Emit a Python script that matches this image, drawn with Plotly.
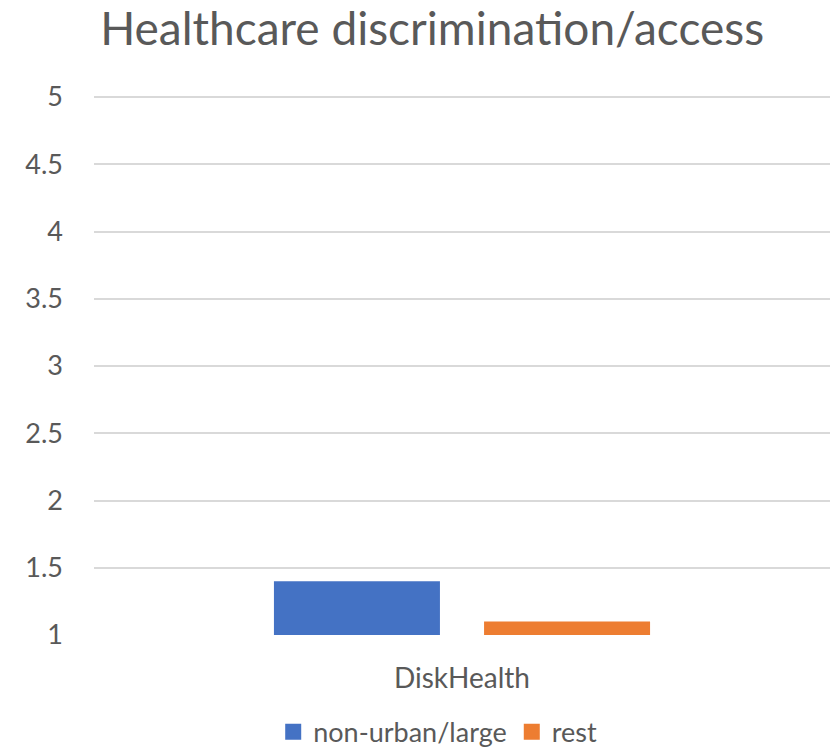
import plotly.graph_objects as go

categories = ["DiskHealth"]
series_names = ["non-urban/large", "rest"]
values_nonurban = [1.40]
values_rest = [1.10]
colors = ["#4472C4", "#ED7D31"]
y_ticks = [1, 1.5, 2, 2.5, 3, 3.5, 4, 4.5, 5]
y_tick_labels = ["1", "1.5", "2", "2.5", "3", "3.5", "4", "4.5", "5"]

font_family = "Lato, Open Sans, sans-serif"
text_color = "#595959"

fig = go.Figure()
for name, vals, col in zip(series_names, [values_nonurban, values_rest], colors):
    fig.add_trace(go.Bar(x=categories, y=vals, name=name, showlegend=False,
                         marker=dict(color=col, line=dict(width=0))))
# legend entries with larger square markers
for name, col in zip(series_names, colors):
    fig.add_trace(go.Scatter(x=[None], y=[None], mode="markers", name=name,
                             marker=dict(symbol="square", size=20, color=col),
                             showlegend=True))

fig.update_layout(
    width=831, height=754,
    paper_bgcolor="white", plot_bgcolor="white",
    margin=dict(l=94, r=1, t=95, b=119, autoexpand=False),
    barmode="group", bargap=0.429, bargroupgap=0.21,
    title=dict(text="Healthcare discrimination/access", x=0.52, xanchor="center",
               y=0.962, yanchor="middle",
               font=dict(family=font_family, size=46, color=text_color)),
    font=dict(family=font_family, color=text_color),
    legend=dict(orientation="h", x=0.467, xanchor="center", y=-0.18, yanchor="middle",
                font=dict(size=27, color=text_color), itemsizing="trace",
                traceorder="normal", itemwidth=30),
    showlegend=True,
)
fig.update_yaxes(range=[1, 5.015], tickvals=y_ticks, ticktext=y_tick_labels,
                 showgrid=True, gridcolor="#D9D9D9", gridwidth=1.5,
                 zeroline=False, showline=False, ticks="", automargin=False,
                 tickfont=dict(size=27, color=text_color), ticklabelstandoff=30)
fig.update_xaxes(showgrid=False, showline=False, ticks="", automargin=False,
                 tickfont=dict(size=28, color=text_color), ticklabelstandoff=24)

fig.write_html("out.html")
